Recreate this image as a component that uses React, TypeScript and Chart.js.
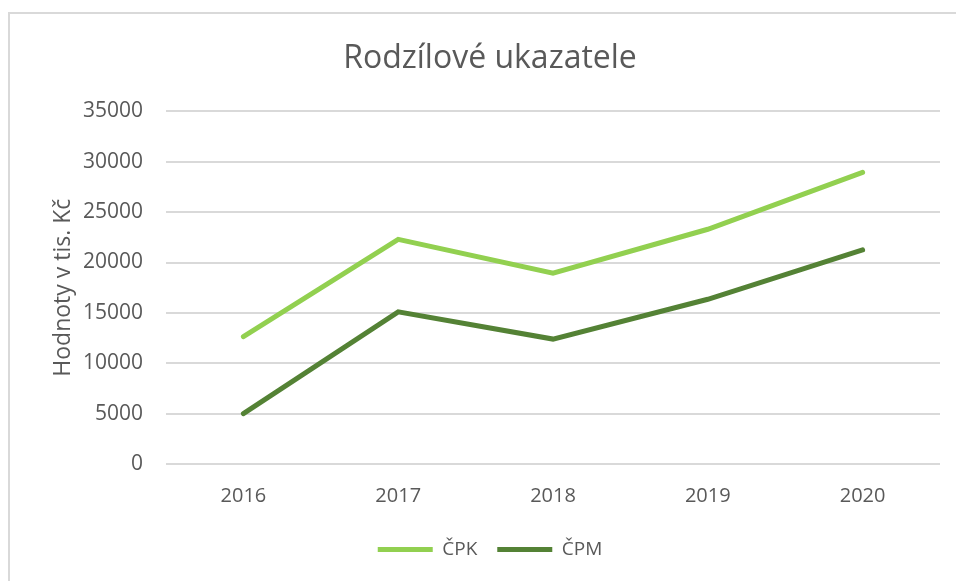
import React, { useEffect, useRef } from "react";
import { Chart, registerables } from "chart.js";

Chart.register(...registerables);

const categories = ["2016", "2017", "2018", "2019", "2020"];
const cpkValues = [12650, 22300, 18950, 23300, 28950];
const cpmValues = [5000, 15100, 12400, 16350, 21250];
const seriesNames = ["ČPK", "ČPM"];
const titleText = "Rodzílové ukazatele";
const yAxisTitle = "Hodnoty v tis. Kč";

const FONT = "'Open Sans', 'Noto Sans', sans-serif";
const TEXT = "#595959";

export default function App() {
  const ref = useRef<HTMLCanvasElement | null>(null);

  useEffect(() => {
    document.body.style.margin = "0";
    const ctx = ref.current!;
    const chart = new Chart(ctx, {
      type: "line",
      data: {
        labels: categories,
        datasets: [
          {
            label: seriesNames[0],
            data: cpkValues,
            borderColor: "#92D050",
            backgroundColor: "#92D050",
            borderWidth: 5,
            borderCapStyle: "round",
            borderJoinStyle: "miter",
            pointRadius: 0,
            pointHoverRadius: 0,
            tension: 0,
          },
          {
            label: seriesNames[1],
            data: cpmValues,
            borderColor: "#548235",
            backgroundColor: "#548235",
            borderWidth: 5,
            borderCapStyle: "round",
            borderJoinStyle: "miter",
            pointRadius: 0,
            pointHoverRadius: 0,
            tension: 0,
          },
        ],
      },
      options: {
        responsive: false,
        animation: false,
        layout: { padding: { left: 40, right: 16, top: 40, bottom: 12 } },
        plugins: {
          title: {
            display: true,
            text: titleText,
            color: TEXT,
            font: { family: FONT, size: 32, weight: "normal" },
            padding: { top: 0, bottom: 33 },
          },
          legend: {
            position: "bottom",
            labels: {
              usePointStyle: true,
              pointStyle: "line",
              pointStyleWidth: 55,
              boxWidth: 55,
              boxHeight: 18,
              color: TEXT,
              font: { family: FONT, size: 19 },
              padding: 20,
            },
          },
          tooltip: { enabled: false },
        },
        scales: {
          x: {
            offset: true,
            grid: { display: false },
            border: { display: false },
            ticks: {
              color: TEXT,
              font: { family: FONT, size: 20 },
              padding: 12,
            },
          },
          y: {
            min: 0,
            max: 35000,
            afterFit: (scale: any) => {
              scale.width = 126;
            },
            ticks: {
              stepSize: 5000,
              color: TEXT,
              font: { family: FONT, size: 21 },
              padding: 23,
              callback: (v: any) => String(v),
            },
            grid: { color: "#d9d9d9", lineWidth: 2, drawTicks: false },
            border: { display: false },
            title: {
              display: true,
              text: yAxisTitle,
              color: TEXT,
              font: { family: FONT, size: 23 },
              padding: { top: 10, bottom: 10 },
            },
          },
        },
      },
    });
    return () => chart.destroy();
  }, []);

  return (
    <div style={{ position: "fixed", left: 0, top: 0, width: 956, height: 581, background: "#fff", overflow: "hidden" }}>
      <div
        style={{
          position: "absolute",
          left: 8,
          top: 12,
          width: 1000,
          height: 1000,
          borderLeft: "2px solid #d9d9d9",
          borderTop: "2px solid #d9d9d9",
        }}
      />
      <canvas ref={ref} width={956} height={581} style={{ position: "absolute", left: 0, top: 0 }} />
    </div>
  );
}
